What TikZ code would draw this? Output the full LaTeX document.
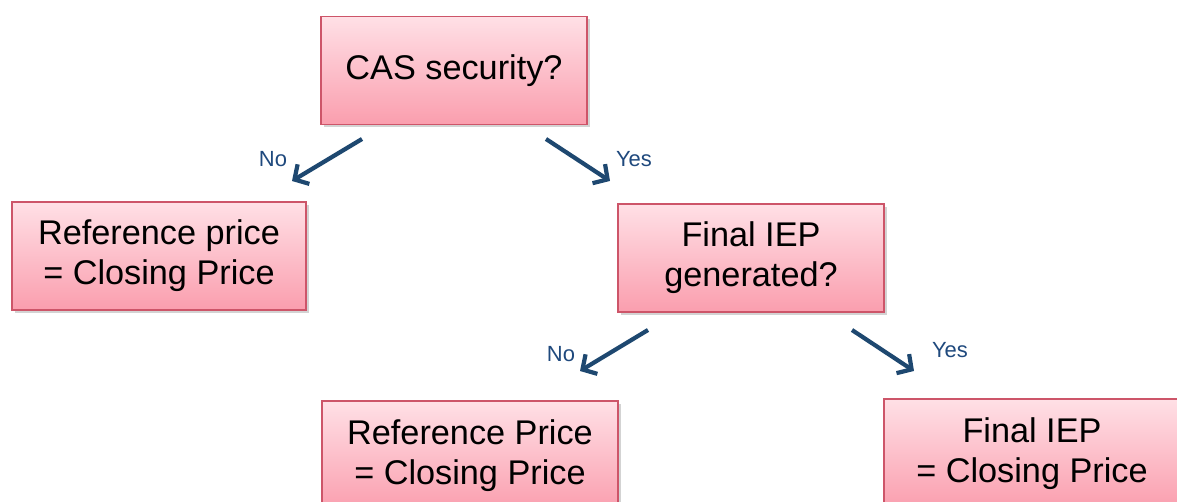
\documentclass[tikz,border=0pt]{standalone}
\usepackage{fontspec}
\setmainfont{Liberation Sans}
\usetikzlibrary{arrows.meta, shadows}
\definecolor{boxline}{RGB}{205,85,105}
\definecolor{boxtop}{RGB}{255,224,230}
\definecolor{boxbot}{RGB}{250,158,174}
\definecolor{arrowblue}{RGB}{30,72,112}
\definecolor{labelblue}{RGB}{31,73,125}
\tikzset{
    decision/.style={draw=boxline, line width=0.8pt, top color=boxtop, bottom color=boxbot,
        minimum width=5.32cm, minimum height=2.16cm, align=center, inner sep=0pt,
        font=\fontsize{19.5}{22.7}\selectfont,
        drop shadow={shadow xshift=1.5pt, shadow yshift=-1.5pt, opacity=0.35}},
    branch/.style={draw=arrowblue, line width=2.4pt, -{Straight Barb[length=6pt, width=13pt, line width=2.4pt]}},
    answer/.style={text=labelblue, font=\fontsize{12.5}{14}\selectfont}
}
\begin{document}
\begin{tikzpicture}[x=0.02cm, y=-0.02cm]
    \useasboundingbox (0,0) rectangle (1177,502);
    % decision boxes
    \node [decision] (cas) at (454,70.5) {CAS security?};
    \node [decision, minimum width=5.88cm] (refA) at (159,256) {Reference price\\= Closing Price};
    \node [decision] (iep) at (751,258) {Final IEP\\generated?};
    \node [decision, minimum width=5.92cm, minimum height=2.2cm] (refB) at (470,456) {Reference Price\\= Closing Price};
    \node [decision, minimum width=5.92cm, minimum height=2.2cm] (final) at (1032,454) {Final IEP\\= Closing Price};
    % arrow ends
    \coordinate (noA1) at (362,139);
    \coordinate (noA2) at (292,181);
    \coordinate (yesA1) at (546,139);
    \coordinate (yesA2) at (610,181);
    \coordinate (noB1) at (648,330);
    \coordinate (noB2) at (580,371);
    \coordinate (yesB1) at (852,330);
    \coordinate (yesB2) at (914,371);
    \draw [branch] (noA1) -- (noA2);
    \draw [branch] (yesA1) -- (yesA2);
    \draw [branch] (noB1) -- (noB2);
    \draw [branch] (yesB1) -- (yesB2);
    % answers
    \node [answer] (noAl) at (273,159) {No};
    \node [answer] (yesAl) at (634,159) {Yes};
    \node [answer] (noBl) at (561,354) {No};
    \node [answer] (yesBl) at (950,350) {Yes};
\end{tikzpicture}
\end{document}
